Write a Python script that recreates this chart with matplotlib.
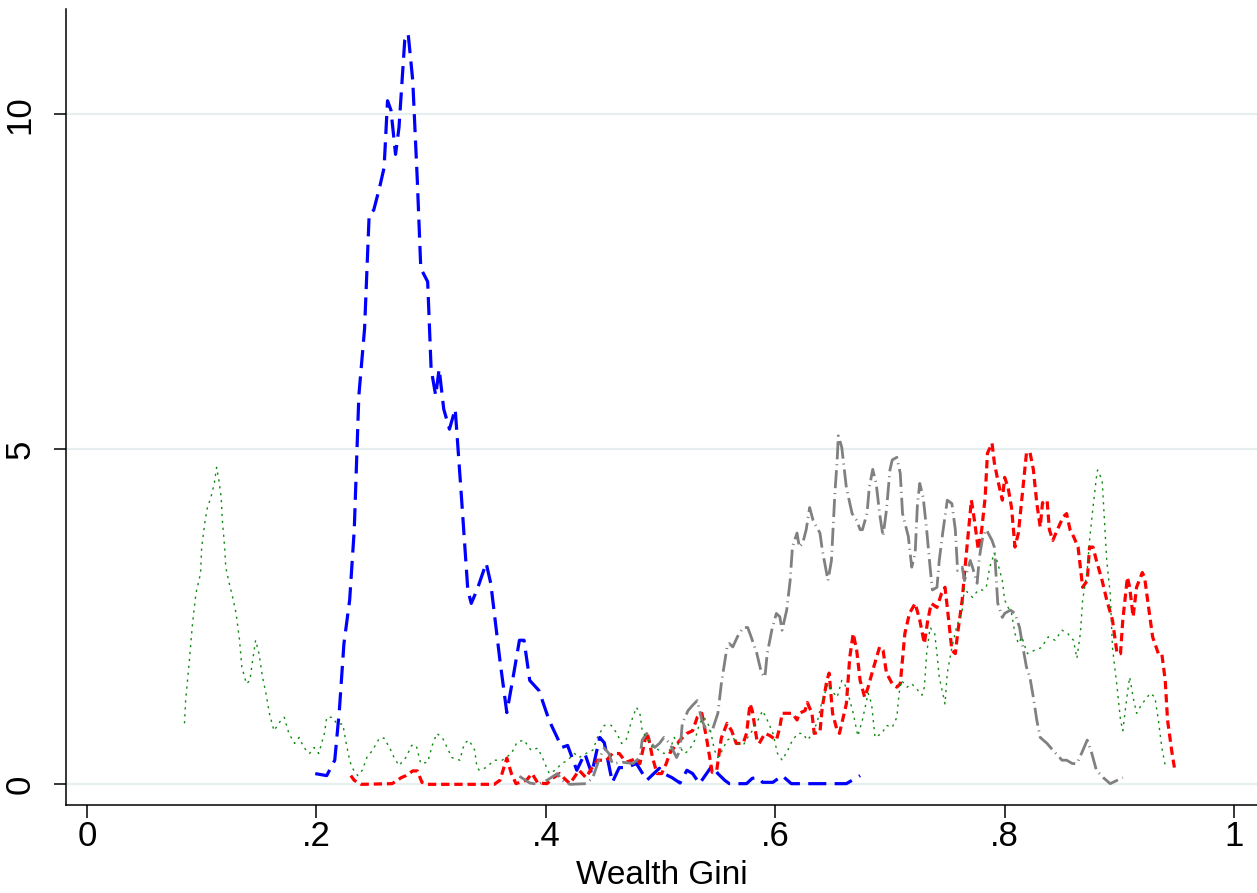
import matplotlib
matplotlib.use("Agg")
import matplotlib.pyplot as plt

plt.rcParams['font.family'] = ['Liberation Sans', 'DejaVu Sans']
plt.rcParams['lines.scale_dashes'] = False

# density estimates: (wealth gini, density)
blue = [(0.199, 0.16), (0.209, 0.13), (0.216, 0.36), (0.220, 1.1), (0.224, 2.1),
        (0.229, 2.75), (0.233, 3.8), (0.237, 5.8), (0.242, 6.8), (0.246, 8.5),
        (0.250, 8.57), (0.255, 8.9), (0.259, 9.2), (0.262, 10.2), (0.265, 10.06),
        (0.269, 9.4), (0.272, 9.8), (0.277, 11.1), (0.280, 11.2), (0.284, 10.5),
        (0.288, 9.0), (0.291, 7.7), (0.297, 7.5), (0.300, 6.2), (0.304, 5.8),
        (0.307, 6.2), (0.311, 5.6), (0.316, 5.3), (0.321, 5.6), (0.326, 4.4),
        (0.332, 2.9), (0.335, 2.7), (0.340, 2.9), (0.348, 3.3), (0.352, 3.0),
        (0.360, 1.85), (0.366, 1.07), (0.371, 1.55), (0.377, 2.15), (0.381, 2.15),
        (0.386, 1.55), (0.394, 1.4), (0.403, 0.95), (0.414, 0.55), (0.419, 0.58),
        (0.427, 0.21), (0.434, 0.46), (0.440, 0.16), (0.447, 0.7), (0.451, 0.62),
        (0.458, 0.03), (0.464, 0.25), (0.470, 0.25), (0.479, 0.31), (0.488, 0.06),
        (0.499, 0.24), (0.503, 0.16), (0.510, 0.1), (0.517, 0.02), (0.523, 0.21),
        (0.528, 0.16), (0.534, 0.01), (0.545, 0.28), (0.550, 0.16), (0.556, 0.06),
        (0.560, 0.01), (0.575, 0.01), (0.580, 0.09), (0.585, 0.1), (0.589, 0.03),
        (0.598, 0.03), (0.606, 0.13), (0.614, 0.01), (0.662, 0.01), (0.674, 0.13)]

red = [(0.230, 0.13), (0.233, 0.06), (0.239, 0.0), (0.266, 0.01), (0.274, 0.1),
       (0.278, 0.13), (0.284, 0.2), (0.288, 0.2), (0.292, 0.03), (0.296, 0.0),
       (0.355, 0.0), (0.360, 0.06), (0.366, 0.39), (0.370, 0.16), (0.374, 0.01),
       (0.383, 0.06), (0.388, 0.16), (0.393, 0.02), (0.401, 0.01), (0.406, 0.09),
       (0.412, 0.16), (0.416, 0.09), (0.421, 0.01), (0.429, 0.21), (0.435, 0.1),
       (0.440, 0.24), (0.445, 0.36), (0.453, 0.36), (0.458, 0.46), (0.464, 0.46),
       (0.470, 0.33), (0.475, 0.36), (0.479, 0.39), (0.482, 0.31), (0.488, 0.78),
       (0.490, 0.66), (0.493, 0.4), (0.497, 0.16), (0.501, 0.16), (0.505, 0.31),
       (0.508, 0.46), (0.510, 0.51), (0.517, 0.66), (0.523, 0.76), (0.528, 0.8),
       (0.532, 1.0), (0.536, 1.06), (0.540, 0.7), (0.545, 0.18), (0.549, 0.21),
       (0.553, 0.69), (0.558, 0.91), (0.562, 0.8), (0.566, 0.61), (0.572, 0.61),
       (0.575, 0.76), (0.578, 1.2), (0.580, 1.1), (0.584, 0.66), (0.586, 0.61),
       (0.591, 0.76), (0.595, 0.73), (0.601, 0.66), (0.604, 0.85), (0.606, 1.06),
       (0.611, 1.06), (0.615, 1.06), (0.619, 0.96), (0.621, 1.06), (0.626, 1.1),
       (0.628, 1.22), (0.632, 1.06), (0.634, 0.76), (0.639, 0.78), (0.641, 1.15),
       (0.645, 1.55), (0.647, 1.66), (0.650, 1.06), (0.654, 0.8), (0.656, 0.76),
       (0.662, 1.2), (0.665, 1.9), (0.668, 2.25), (0.671, 2.0), (0.674, 1.55),
       (0.678, 1.3), (0.681, 1.45), (0.685, 1.7), (0.691, 2.05), (0.694, 2.0),
       (0.697, 1.66), (0.702, 1.5), (0.706, 1.45), (0.709, 1.5), (0.713, 2.25),
       (0.717, 2.55), (0.722, 2.7), (0.726, 2.45), (0.730, 2.1), (0.733, 2.45),
       (0.736, 2.7), (0.741, 2.64), (0.745, 2.85), (0.748, 2.94), (0.750, 2.64),
       (0.754, 2.0), (0.757, 1.95), (0.759, 2.25), (0.763, 2.75), (0.765, 3.15),
       (0.768, 3.7), (0.771, 4.24), (0.774, 3.9), (0.777, 3.5), (0.780, 3.8),
       (0.783, 4.28), (0.785, 4.94), (0.789, 5.09), (0.791, 4.8), (0.794, 4.54),
       (0.798, 4.24), (0.800, 4.58), (0.803, 4.43), (0.806, 4.13), (0.809, 3.54),
       (0.812, 3.75), (0.816, 4.43), (0.819, 4.94), (0.822, 4.96), (0.825, 4.7),
       (0.828, 4.2), (0.831, 3.84), (0.833, 4.2), (0.837, 4.24), (0.839, 3.8),
       (0.842, 3.64), (0.846, 3.8), (0.851, 3.99), (0.854, 4.04), (0.857, 3.8),
       (0.860, 3.7), (0.864, 3.54), (0.868, 2.94), (0.872, 3.04), (0.874, 3.54),
       (0.877, 3.54), (0.880, 3.34), (0.885, 3.04), (0.889, 2.75), (0.894, 2.45),
       (0.898, 1.95), (0.901, 1.95), (0.903, 2.45), (0.907, 3.09), (0.909, 2.94),
       (0.912, 2.5), (0.915, 2.94), (0.920, 3.16), (0.922, 3.09), (0.925, 2.7),
       (0.929, 2.2), (0.934, 1.95), (0.937, 1.95), (0.940, 1.55), (0.942, 0.96),
       (0.946, 0.46), (0.948, 0.25)]

gray = [(0.377, 0.12), (0.386, 0.02), (0.393, 0.0), (0.401, 0.06), (0.410, 0.16),
        (0.414, 0.06), (0.421, 0.0), (0.435, 0.01), (0.441, 0.1), (0.447, 0.4),
        (0.451, 0.54), (0.455, 0.46), (0.458, 0.31), (0.467, 0.33), (0.476, 0.31),
        (0.482, 0.4), (0.484, 0.66), (0.488, 0.76), (0.492, 0.61), (0.495, 0.55),
        (0.499, 0.61), (0.503, 0.7), (0.508, 0.61), (0.514, 0.4), (0.517, 0.51),
        (0.519, 0.91), (0.524, 1.1), (0.528, 1.18), (0.532, 1.25), (0.536, 0.96),
        (0.540, 0.8), (0.545, 0.8), (0.550, 1.06), (0.553, 1.5), (0.558, 2.05),
        (0.560, 2.1), (0.563, 2.05), (0.567, 2.2), (0.572, 2.34), (0.576, 2.34),
        (0.579, 2.2), (0.584, 1.95), (0.588, 1.66), (0.591, 1.6), (0.593, 1.95),
        (0.597, 2.3), (0.601, 2.55), (0.604, 2.5), (0.606, 2.3), (0.610, 2.6),
        (0.613, 3.04), (0.615, 3.54), (0.619, 3.75), (0.621, 3.54), (0.624, 3.6),
        (0.627, 3.8), (0.630, 4.13), (0.633, 3.94), (0.636, 3.84), (0.639, 3.75),
        (0.641, 3.5), (0.646, 3.04), (0.649, 3.34), (0.652, 4.34), (0.654, 4.84),
        (0.655, 5.2), (0.658, 5.03), (0.662, 4.43), (0.667, 4.04), (0.671, 3.94),
        (0.674, 3.8), (0.676, 3.8), (0.680, 4.04), (0.682, 4.43), (0.685, 4.7),
        (0.688, 4.49), (0.691, 4.04), (0.694, 3.7), (0.697, 4.1), (0.700, 4.69),
        (0.702, 4.84), (0.706, 4.88), (0.709, 4.64), (0.711, 4.04), (0.716, 3.7),
        (0.719, 3.24), (0.722, 3.45), (0.724, 4.19), (0.726, 4.49), (0.729, 4.28),
        (0.732, 3.8), (0.735, 3.24), (0.737, 2.9), (0.741, 2.94), (0.743, 3.34),
        (0.746, 3.75), (0.750, 4.24), (0.754, 4.19), (0.757, 3.8), (0.759, 3.19),
        (0.763, 3.24), (0.765, 3.04), (0.770, 3.34), (0.772, 3.24), (0.776, 3.0),
        (0.778, 3.39), (0.781, 3.7), (0.784, 3.8), (0.789, 3.64), (0.791, 3.54),
        (0.794, 2.7), (0.798, 2.49), (0.800, 2.55), (0.805, 2.6), (0.809, 2.55),
        (0.813, 2.34), (0.816, 2.04), (0.819, 1.75), (0.822, 1.6), (0.825, 1.3),
        (0.828, 0.96), (0.831, 0.7), (0.837, 0.61), (0.842, 0.51), (0.850, 0.36),
        (0.854, 0.36), (0.859, 0.31), (0.863, 0.31), (0.867, 0.46), (0.872, 0.66),
        (0.876, 0.46), (0.880, 0.21), (0.886, 0.1), (0.892, 0.01), (0.898, 0.06),
        (0.903, 0.1)]

green = [(0.085, 0.91), (0.086, 1.25), (0.089, 1.8), (0.092, 2.4), (0.095, 2.85),
         (0.099, 3.15), (0.100, 3.54), (0.103, 3.94), (0.105, 4.13), (0.108, 4.28),
         (0.111, 4.49), (0.113, 4.73), (0.115, 4.54), (0.117, 4.28), (0.118, 3.94),
         (0.120, 3.54), (0.121, 3.24), (0.124, 3.0), (0.127, 2.79), (0.130, 2.55),
         (0.133, 2.15), (0.135, 1.75), (0.139, 1.5), (0.142, 1.55), (0.144, 1.8),
         (0.147, 2.15), (0.150, 1.95), (0.153, 1.6), (0.156, 1.36), (0.159, 1.06),
         (0.163, 0.8), (0.168, 0.93), (0.172, 1.0), (0.176, 0.76), (0.181, 0.61),
         (0.185, 0.7), (0.189, 0.55), (0.194, 0.46), (0.198, 0.55), (0.202, 0.46),
         (0.207, 0.76), (0.209, 1.0), (0.214, 1.0), (0.218, 0.9), (0.223, 0.9),
         (0.226, 0.61), (0.229, 0.36), (0.231, 0.25), (0.236, 0.13), (0.240, 0.21),
         (0.244, 0.4), (0.249, 0.51), (0.255, 0.69), (0.259, 0.69), (0.264, 0.54),
         (0.268, 0.39), (0.272, 0.28), (0.278, 0.4), (0.283, 0.58), (0.287, 0.58),
         (0.291, 0.31), (0.297, 0.33), (0.301, 0.58), (0.305, 0.76), (0.310, 0.69),
         (0.314, 0.55), (0.318, 0.4), (0.325, 0.36), (0.329, 0.61), (0.333, 0.66),
         (0.338, 0.51), (0.340, 0.25), (0.342, 0.21), (0.348, 0.25), (0.355, 0.36),
         (0.362, 0.36), (0.370, 0.46), (0.375, 0.63), (0.381, 0.66), (0.387, 0.51),
         (0.393, 0.54), (0.397, 0.4), (0.403, 0.16), (0.408, 0.21), (0.414, 0.31),
         (0.419, 0.36), (0.425, 0.46), (0.429, 0.4), (0.435, 0.46), (0.441, 0.51),
         (0.445, 0.7), (0.451, 0.88), (0.457, 0.88), (0.462, 0.76), (0.466, 0.61),
         (0.470, 0.66), (0.475, 0.96), (0.479, 1.15), (0.482, 1.06), (0.484, 0.8),
         (0.489, 0.66), (0.493, 0.55), (0.499, 0.51), (0.503, 0.46), (0.508, 0.51),
         (0.512, 0.7), (0.517, 0.55), (0.521, 0.46), (0.525, 0.51), (0.530, 0.66),
         (0.534, 0.91), (0.538, 1.0), (0.543, 0.85), (0.547, 0.51), (0.550, 0.4),
         (0.554, 0.51), (0.558, 0.66), (0.563, 0.7), (0.567, 0.61), (0.572, 0.58),
         (0.576, 0.7), (0.580, 0.8), (0.585, 0.96), (0.589, 1.1), (0.593, 0.96),
         (0.598, 0.76), (0.602, 0.46), (0.606, 0.36), (0.611, 0.51), (0.615, 0.66),
         (0.620, 0.76), (0.624, 0.76), (0.628, 0.66), (0.633, 0.76), (0.637, 0.96),
         (0.641, 1.25), (0.646, 1.5), (0.649, 1.4), (0.654, 1.3), (0.658, 1.55),
         (0.662, 1.45), (0.668, 1.06), (0.672, 0.72), (0.676, 0.96), (0.681, 1.36),
         (0.684, 1.2), (0.687, 0.7), (0.693, 0.76), (0.697, 0.88), (0.702, 0.85),
         (0.706, 1.0), (0.708, 1.36), (0.710, 1.55), (0.715, 1.45), (0.719, 1.5),
         (0.723, 1.43), (0.728, 1.33), (0.730, 1.45), (0.732, 1.95), (0.735, 2.34),
         (0.739, 2.25), (0.741, 1.95), (0.743, 1.6), (0.748, 1.2), (0.750, 1.66),
         (0.754, 2.04), (0.758, 2.34), (0.763, 2.6), (0.765, 2.94), (0.768, 2.85),
         (0.772, 2.79), (0.777, 2.9), (0.781, 2.9), (0.784, 2.94), (0.787, 3.24),
         (0.791, 3.45), (0.794, 3.3), (0.798, 3.04), (0.800, 2.75), (0.803, 2.64),
         (0.806, 2.55), (0.809, 2.25), (0.812, 2.1), (0.815, 2.2), (0.818, 2.04),
         (0.820, 1.95), (0.826, 2.0), (0.832, 2.04), (0.838, 2.2), (0.844, 2.15),
         (0.850, 2.3), (0.855, 2.25), (0.860, 2.15), (0.863, 1.88), (0.866, 2.25),
         (0.868, 2.75), (0.872, 3.19), (0.874, 3.64), (0.877, 4.13), (0.880, 4.58),
         (0.881, 4.69), (0.885, 4.54), (0.887, 3.94), (0.889, 3.34), (0.892, 2.85),
         (0.894, 2.04), (0.898, 1.45), (0.901, 0.96), (0.903, 0.8), (0.907, 1.36),
         (0.909, 1.6), (0.912, 1.3), (0.915, 1.06), (0.918, 1.15), (0.922, 1.25),
         (0.927, 1.36), (0.931, 1.3), (0.934, 0.96), (0.937, 0.55), (0.940, 0.28)]

x_ticks = [0, 0.2, 0.4, 0.6, 0.8, 1]
x_ticklabels = ['0', '.2', '.4', '.6', '.8', '1']
y_ticks = [0, 5, 10]

fig = plt.figure(figsize=(12.57, 8.93), dpi=100)
ax = fig.add_axes([0.0525, 0.0985, 0.9475, 0.8915])

ax.plot(*zip(*blue), color='#0000ff', lw=2.3, dashes=(13, 6))
ax.plot(*zip(*red), color='#ff0000', lw=2.3, dashes=(6, 3.5))
ax.plot(*zip(*gray), color='#808080', lw=2.0, dashes=(13, 3.5, 0.8, 3.5))
ax.plot(*zip(*green), color='#118811', lw=1.0, dashes=(1.6, 3.4))

ax.set_xlim(-0.0183, 1.02)
ax.set_ylim(-0.309, 11.57)

ax.set_xticks(x_ticks)
ax.set_xticklabels(x_ticklabels)
ax.set_yticks(y_ticks)
ax.set_yticklabels([str(v) for v in y_ticks], rotation=90, va='center')
ax.tick_params(axis='both', direction='out', length=9, width=1.1, labelsize=25)
ax.tick_params(axis='x', pad=2)
ax.tick_params(axis='y', pad=12)

ax.grid(axis='y', color='#e6eef0', lw=1.6)
ax.set_axisbelow(True)
for s in ['top', 'right']:
    ax.spines[s].set_visible(False)
for s in ['left', 'bottom']:
    ax.spines[s].set_linewidth(1.1)

ax.set_xlabel('Wealth Gini', fontsize=24, labelpad=5)

fig.savefig('out.png', dpi=100)
